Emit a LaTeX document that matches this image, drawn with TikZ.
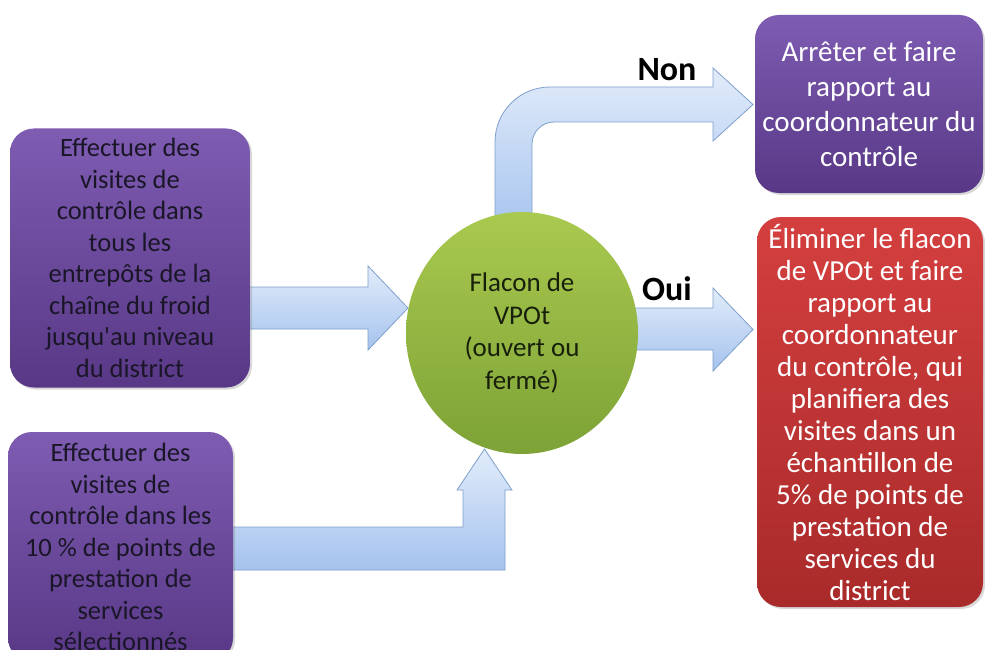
\documentclass[tikz,border=0pt]{standalone}
\usepackage{fontspec}
\setmainfont{Carlito}[Ligatures=TeXOff]
\usetikzlibrary{shapes.geometric,shadows}
\definecolor{purT}{HTML}{7E5CB2}
\definecolor{purB}{HTML}{583886}
\definecolor{redT}{HTML}{D43F3F}
\definecolor{redB}{HTML}{A92A2A}
\definecolor{grnT}{HTML}{A9C94F}
\definecolor{grnB}{HTML}{7DA236}
\definecolor{arrT}{HTML}{E2ECFA}
\definecolor{arrB}{HTML}{A5C3EE}
\definecolor{arrE}{HTML}{7F9FCB}
\definecolor{darktext}{HTML}{1A1628}
\definecolor{greentext}{HTML}{18200C}
\newcommand\fntL{\fontsize{26.5}{31.5}\selectfont}
\newcommand\fntC{\fontsize{27}{32.5}\selectfont}
\newcommand\fntR{\fontsize{29}{35}\selectfont}
\newcommand\fntRR{\fontsize{29}{32}\selectfont}
\newcommand\fntLab{\fontsize{34}{38}\selectfont\bfseries}
\begin{document}
\begin{tikzpicture}[x=1pt,y=-1pt,
  box/.style={rectangle, rounded corners=24pt, inner sep=0pt, align=center,
    drop shadow={shadow xshift=2pt,shadow yshift=-2pt,opacity=0.3}},
  purplebox/.style={box, top color=purT, bottom color=purB},
  redbox/.style={box, top color=redT, bottom color=redB},
  blockarrow/.style={draw=arrE, line width=0.8pt, top color=arrT, bottom color=arrB, line join=miter},
  lab/.style={font=\fntLab, text=black, inner sep=0pt}]
\clip (0,0) rectangle (985,650);
\fill[white] (0,0) rectangle (985,650);

% block arrows (behind the shapes)
\path[blockarrow] (245,287) -- (368,287) -- (368,266) -- (408,308) -- (368,350) -- (368,329) -- (245,329) -- cycle;
\path[blockarrow] (620,308) -- (713,308) -- (713,288) -- (753,329.5) -- (713,371) -- (713,350) -- (620,350) -- cycle;
\path[blockarrow] (495,235) -- (495,142) .. controls (495,111.6) and (519.6,87) .. (550,87)
  -- (713,87) -- (713,68) -- (753,104.5) -- (713,141) -- (713,122) -- (554,122)
  .. controls (541.9,122) and (532,131.9) .. (532,144) -- (532,235) -- cycle;
\path[blockarrow] (228,527) -- (463,527) -- (463,490) -- (457,490) -- (484.5,449) -- (512,490) -- (505,490) -- (505,570) -- (228,570) -- cycle;

% nodes
\node[purplebox, text=darktext, minimum width=240pt, minimum height=259pt, font=\fntL] (b1) at (130,258)
  {Effectuer des\\visites de\\contrôle dans\\tous les\\entrepôts de la\\chaîne du froid\\jusqu'au niveau\\du district};
\node[purplebox, text=darktext, minimum width=225pt, minimum height=230pt, font=\fntL] (b2) at (120.5,547)
  {Effectuer des\\visites de\\contrôle dans les\\10 \% de points de\\prestation de\\services\\sélectionnés};
\node[ellipse, minimum width=232pt, minimum height=242pt, inner sep=0pt, align=center,
  top color=grnT, bottom color=grnB, text=greentext, font=\fntC] (c) at (522,333)
  {Flacon de\\VPOt\\(ouvert ou\\fermé)};
\node[purplebox, text=white, minimum width=228pt, minimum height=178pt, font=\fntR] (stop) at (869,104)
  {Arrêter et faire\\rapport au\\coordonnateur du\\contrôle};
\node[redbox, text=white, minimum width=226pt, minimum height=390pt, font=\fntRR] (elim) at (870,412)
  {Éliminer le flacon\\de VPOt et faire\\rapport au\\coordonnateur\\du contrôle, qui\\planifiera des\\visites dans un\\échantillon de\\5\% de points de\\prestation de\\services du\\district};

\node[lab] (non) at (667,70) {Non};
\node[lab] (oui) at (667,289) {Oui};
\end{tikzpicture}
\end{document}
